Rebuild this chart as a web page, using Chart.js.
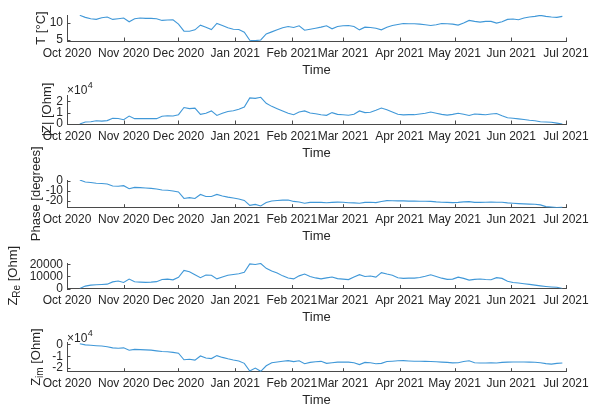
<!DOCTYPE html>
<html>
<head>
<meta charset="utf-8">
<script src="https://cdn.jsdelivr.net/npm/chart.js@4/dist/chart.umd.min.js"></script>
<style>
  html, body { margin: 0; padding: 0; background: #fff; }
  #wrap { position: relative; width: 590px; height: 408px; overflow: hidden; }
  #wrap canvas { position: absolute; left: 0; top: 0; }
</style>
</head>
<body>
<div id="wrap"></div>
<script>
// Sampling dates of the monitoring series
const dates = [
  '2020-10-08','2020-10-11','2020-10-14','2020-10-17','2020-10-20','2020-10-23','2020-10-26','2020-10-29',
  '2020-11-01','2020-11-04','2020-11-07','2020-11-10','2020-11-13','2020-11-16','2020-11-19','2020-11-22','2020-11-25','2020-11-28',
  '2020-12-01','2020-12-04','2020-12-07','2020-12-10','2020-12-13','2020-12-16','2020-12-19','2020-12-22','2020-12-25','2020-12-28','2020-12-31',
  '2021-01-03','2021-01-06','2021-01-09','2021-01-12','2021-01-15','2021-01-18','2021-01-21','2021-01-24','2021-01-27','2021-01-30',
  '2021-02-02','2021-02-05','2021-02-08','2021-02-11','2021-02-14','2021-02-17','2021-02-20','2021-02-23','2021-02-26',
  '2021-03-01','2021-03-04','2021-03-07','2021-03-10','2021-03-13','2021-03-16','2021-03-19','2021-03-22','2021-03-25','2021-03-28','2021-03-31',
  '2021-04-03','2021-04-06','2021-04-09','2021-04-12','2021-04-15','2021-04-18','2021-04-21','2021-04-24','2021-04-27','2021-04-30',
  '2021-05-03','2021-05-06','2021-05-09','2021-05-12','2021-05-15','2021-05-18','2021-05-21','2021-05-24','2021-05-27','2021-05-30',
  '2021-06-02','2021-06-05','2021-06-08','2021-06-11','2021-06-14','2021-06-17','2021-06-20','2021-06-23','2021-06-26','2021-06-29'
];

// Temperature [°C]
const temperature = [
  12.3, 11.7, 11.3, 11.1, 11.6, 11.8, 11.1, 11.3,
  11.5, 10.4, 11.3, 11.5, 11.4, 11.4, 11.3, 10.8, 10.9, 11.0,
  9.7, 7.6, 7.6, 8.0, 9.4, 8.8, 8.1, 9.9, 9.3, 8.6, 8.2,
  8.1, 7.3, 4.9, 4.8, 5.0, 6.8, 7.4, 8.0, 8.6, 9.0,
  8.7, 9.2, 7.9, 8.2, 8.5, 8.8, 9.2, 8.3, 9.0,
  9.2, 9.3, 9.0, 8.0, 8.8, 8.7, 8.5, 8.0, 8.8, 9.3, 9.6,
  9.9, 9.8, 9.8, 9.7, 9.5, 9.3, 9.5, 9.9, 9.8, 9.7,
  9.4, 10.0, 10.8, 10.5, 10.3, 10.5, 10.5, 10.0, 10.4, 11.1,
  11.2, 11.0, 11.5, 11.8, 12.0, 12.3, 12.0, 11.8, 11.7, 12.0
];

// Impedance magnitude |Z| [Ohm]
const magnitude = [
  0, 1800, 2000, 2800, 2500, 3000, 5000, 4800,
  3800, 7000, 4700, 4700, 4700, 4700, 4700, 6800, 7200, 7000,
  8200, 14500, 13500, 14000, 8500, 9500, 11500, 7500, 9500, 11000, 11700,
  13000, 15000, 23000, 22500, 23500, 18200, 15500, 13500, 11500, 9500,
  8200, 10500, 11500, 9700, 9000, 8200, 7600, 10000, 8500,
  8200, 7700, 8500, 11500, 10000, 10300, 12000, 14000, 12500, 10500, 8500,
  8000, 8200, 8200, 8800, 9500, 10500, 9500, 8500, 7800, 8500,
  9500, 8500, 7500, 8800, 8500, 8200, 8800, 9200, 7200, 5500,
  5000, 4500, 4000, 3300, 2800, 2000, 1700, 1500, 800, 0
];

// Phase angle [degrees]
const phase = [
  1.0, -1.0, -1.5, -2.3, -2.5, -3.0, -5.0, -5.3,
  -4.7, -7.8, -6.4, -6.7, -7.0, -7.4, -8.0, -9.0, -9.3, -10.0,
  -11.0, -17.5, -16.7, -17.5, -13.5, -15.5, -15.5, -13.5, -15.0, -16.2, -17.0,
  -18.0, -19.5, -24.5, -23.5, -25.0, -21.5, -20.0, -19.5, -19.2, -19.0,
  -20.5, -21.0, -22.3, -21.5, -21.3, -21.5, -21.8, -21.5, -21.2,
  -21.3, -21.8, -22.0, -22.3, -21.5, -21.3, -21.7, -20.5, -19.7, -19.8, -20.0,
  -20.0, -20.2, -20.2, -20.3, -20.3, -20.5, -21.0, -21.3, -21.5, -21.7,
  -21.5, -21.0, -20.7, -21.5, -21.5, -21.3, -21.2, -21.3, -21.3, -22.0,
  -22.3, -22.7, -23.0, -23.2, -23.3, -24.0, -25.7, -26.2, -26.7, -26.5
];

// Real part Z_Re [Ohm]
const realPart = [
  0, 2000, 2800, 3100, 3300, 3600, 5500, 6200,
  5000, 7800, 5600, 5300, 5100, 5300, 5700, 7500, 7800, 7200,
  9300, 15000, 14000, 11500, 9000, 11200, 11000, 8000, 9500, 11000, 11700,
  12300, 13500, 20500, 20000, 20800, 16800, 14600, 12800, 10500, 8700,
  8000, 10500, 12000, 10000, 8800, 8000, 8800, 9600, 8200,
  7800, 7400, 9500, 11500, 10000, 10400, 9500, 13200, 12000, 11000, 9000,
  8400, 8600, 8600, 9200, 10200, 11400, 10000, 8600, 7600, 7800,
  9400, 8400, 7000, 7600, 7900, 7500, 7300, 9000, 8400, 6000,
  5000, 4600, 4000, 3400, 2800, 2200, 1700, 1300, 1000, 0
];

// Imaginary part Z_im [Ohm]
const imagPart = [
  500, -500, -800, -1200, -1500, -2000, -3000, -3300,
  -3000, -5000, -4300, -4500, -4700, -4900, -5500, -6000, -6300, -6800,
  -7500, -13000, -12500, -13300, -9800, -11500, -12000, -9500, -11000, -12200, -13200,
  -14000, -16000, -22500, -20000, -22700, -18000, -15500, -14800, -14200, -13700,
  -14500, -13800, -16300, -15200, -14700, -14300, -16000, -15500, -15000,
  -14900, -15000, -15500, -17000, -15200, -15500, -16300, -16000, -14500, -14200, -13800,
  -13700, -14000, -14200, -14200, -14300, -14500, -14700, -15000, -15200, -15600,
  -15500, -14500, -13800, -15500, -15700, -15700, -15600, -15700, -15200, -15000,
  -14800, -14900, -14900, -15000, -15100, -15500, -16200, -16600, -16000, -15700
];

// Month ticks on the time axis
const monthTicks = ['2020-10-01','2020-11-01','2020-12-01','2021-01-01','2021-02-01','2021-03-01','2021-04-01','2021-05-01','2021-06-01','2021-07-01'];
const monthLabels = ['Oct 2020','Nov 2020','Dec 2020','Jan 2021','Feb 2021','Mar 2021','Apr 2021','May 2021','Jun 2021','Jul 2021'];

// Y tick values per panel
const temperatureTicks = [5, 10];
const magnitudeTicks = [0, 10000, 20000];
const phaseTicks = [-20, -10, 0];
const realTicks = [0, 10000, 20000];
const imagTicks = [-20000, -10000, 0];

const FONT = '"Liberation Sans", Arial, Helvetica, sans-serif';
const TEXT = '#262626';
const AXIS = '#4a4a4a';
const LINE = 'rgb(64,152,216)';
const W = 590, H = 408;
const PLOT_LEFT = 67, PLOT_RIGHT = 566;
const XAXIS_H = 20;

const DAY = 86400000;
const origin = Date.parse(monthTicks[0]);
const toDay = d => (Date.parse(d) - origin) / DAY;
const dayValues = dates.map(toDay);
const monthDays = monthTicks.map(toDay);

const panels = [
  { values: temperature, top: 15, bottom: 41, min: 4.7, max: 12.4, ticks: temperatureTicks,
    fmt: v => String(v), labelX: 41, label: [{ t: 'T [°C]' }] },
  { values: magnitude, top: 95, bottom: 124, min: 0, max: 25500, ticks: magnitudeTicks,
    fmt: v => String(v / 1e4), labelX: 47, label: [{ t: '|Z| [Ohm]' }], exponent: true },
  { values: phase, top: 180, bottom: 207.7, min: -26.8, max: 1, ticks: phaseTicks,
    fmt: v => String(v), labelX: 36, label: [{ t: 'Phase [degrees]' }] },
  { values: realPart, top: 263, bottom: 288.5, min: 0, max: 21200, ticks: realTicks,
    fmt: v => String(v), labelX: 13, label: [{ t: 'Z' }, { t: 'Re', sub: true }, { t: ' [Ohm]' }] },
  { values: imagPart, top: 342.5, bottom: 371.7, min: -23000, max: 1500, ticks: imagTicks,
    fmt: v => String(v / 1e4), labelX: 36, label: [{ t: 'Z' }, { t: 'im', sub: true }, { t: ' [Ohm]' }], exponent: true }
];

function decorations(panel) {
  return {
    id: 'decorations',
    afterDraw(chart) {
      const { ctx, chartArea: a, scales: { x, y } } = chart;
      ctx.save();
      // inward tick marks
      ctx.strokeStyle = AXIS;
      ctx.lineWidth = 1;
      ctx.beginPath();
      x.ticks.forEach(t => {
        const px = Math.round(x.getPixelForValue(t.value)) + 0.5;
        ctx.moveTo(px, a.bottom);
        ctx.lineTo(px, a.bottom - 3.5);
      });
      y.ticks.forEach(t => {
        const py = Math.round(y.getPixelForValue(t.value)) + 0.5;
        ctx.moveTo(a.left, py);
        ctx.lineTo(a.left + 3.5, py);
      });
      ctx.stroke();

      ctx.fillStyle = TEXT;
      // x axis title
      ctx.font = '13px ' + FONT;
      ctx.textAlign = 'center';
      ctx.textBaseline = 'middle';
      ctx.fillText('Time', (a.left + a.right) / 2, a.bottom + 29);

      // rotated y axis title, with optional subscript
      const mainFont = '13px ' + FONT, subFont = '10px ' + FONT;
      let total = 0;
      panel.label.forEach(s => {
        ctx.font = s.sub ? subFont : mainFont;
        s.w = ctx.measureText(s.t).width;
        total += s.w;
      });
      ctx.translate(panel.labelX, (a.top + a.bottom) / 2);
      ctx.rotate(-Math.PI / 2);
      ctx.textAlign = 'left';
      let cx = -total / 2;
      panel.label.forEach(s => {
        ctx.font = s.sub ? subFont : mainFont;
        ctx.fillText(s.t, cx, s.sub ? 4 : 0);
        cx += s.w;
      });
      ctx.setTransform(1, 0, 0, 1, 0, 0);

      // axis exponent
      if (panel.exponent) {
        ctx.textAlign = 'left';
        ctx.textBaseline = 'middle';
        ctx.font = '12px ' + FONT;
        const base = '\u00d710';
        ctx.fillText(base, a.left, a.top - 4);
        const bw = ctx.measureText(base).width;
        ctx.font = '9px ' + FONT;
        ctx.fillText('4', a.left + bw + 0.5, a.top - 9);
      }
      ctx.restore();
    }
  };
}

const wrap = document.getElementById('wrap');
panels.forEach(panel => {
  const canvas = document.createElement('canvas');
  canvas.width = W;
  canvas.height = H;
  canvas.style.width = W + 'px';
  canvas.style.height = H + 'px';
  wrap.appendChild(canvas);

  new Chart(canvas, {
    type: 'line',
    data: {
      datasets: [{
        data: panel.values.map((v, i) => ({ x: dayValues[i], y: v })),
        borderColor: LINE,
        borderWidth: 1.1,
        pointRadius: 0,
        tension: 0,
        fill: false
      }]
    },
    options: {
      responsive: false,
      animation: false,
      events: [],
      devicePixelRatio: 1,
      layout: {
        padding: { left: 0, right: W - PLOT_RIGHT, top: panel.top, bottom: H - panel.bottom - XAXIS_H }
      },
      plugins: { legend: { display: false }, tooltip: { enabled: false } },
      scales: {
        x: {
          type: 'linear',
          min: monthDays[0],
          max: monthDays[monthDays.length - 1],
          afterBuildTicks: s => { s.ticks = monthDays.map(v => ({ value: v })); },
          afterFit: s => { s.height = XAXIS_H; s.paddingLeft = 0; s.paddingRight = 0; },
          grid: { display: false, drawTicks: false },
          border: { display: true, color: AXIS, width: 1 },
          ticks: {
            autoSkip: false, maxRotation: 0, minRotation: 0, padding: 5,
            color: TEXT, font: { size: 12, family: FONT },
            callback: (v, i) => monthLabels[i]
          }
        },
        y: {
          type: 'linear',
          min: panel.min,
          max: panel.max,
          afterBuildTicks: s => { s.ticks = panel.ticks.map(v => ({ value: v })); },
          afterFit: s => { s.width = PLOT_LEFT; s.paddingTop = 0; s.paddingBottom = 0; },
          grid: { display: false, drawTicks: false },
          border: { display: true, color: AXIS, width: 1 },
          ticks: {
            autoSkip: false, padding: 4, color: TEXT, font: { size: 12, family: FONT },
            callback: v => panel.fmt(v)
          }
        }
      }
    },
    plugins: [decorations(panel)]
  });
});
</script>
</body>
</html>
